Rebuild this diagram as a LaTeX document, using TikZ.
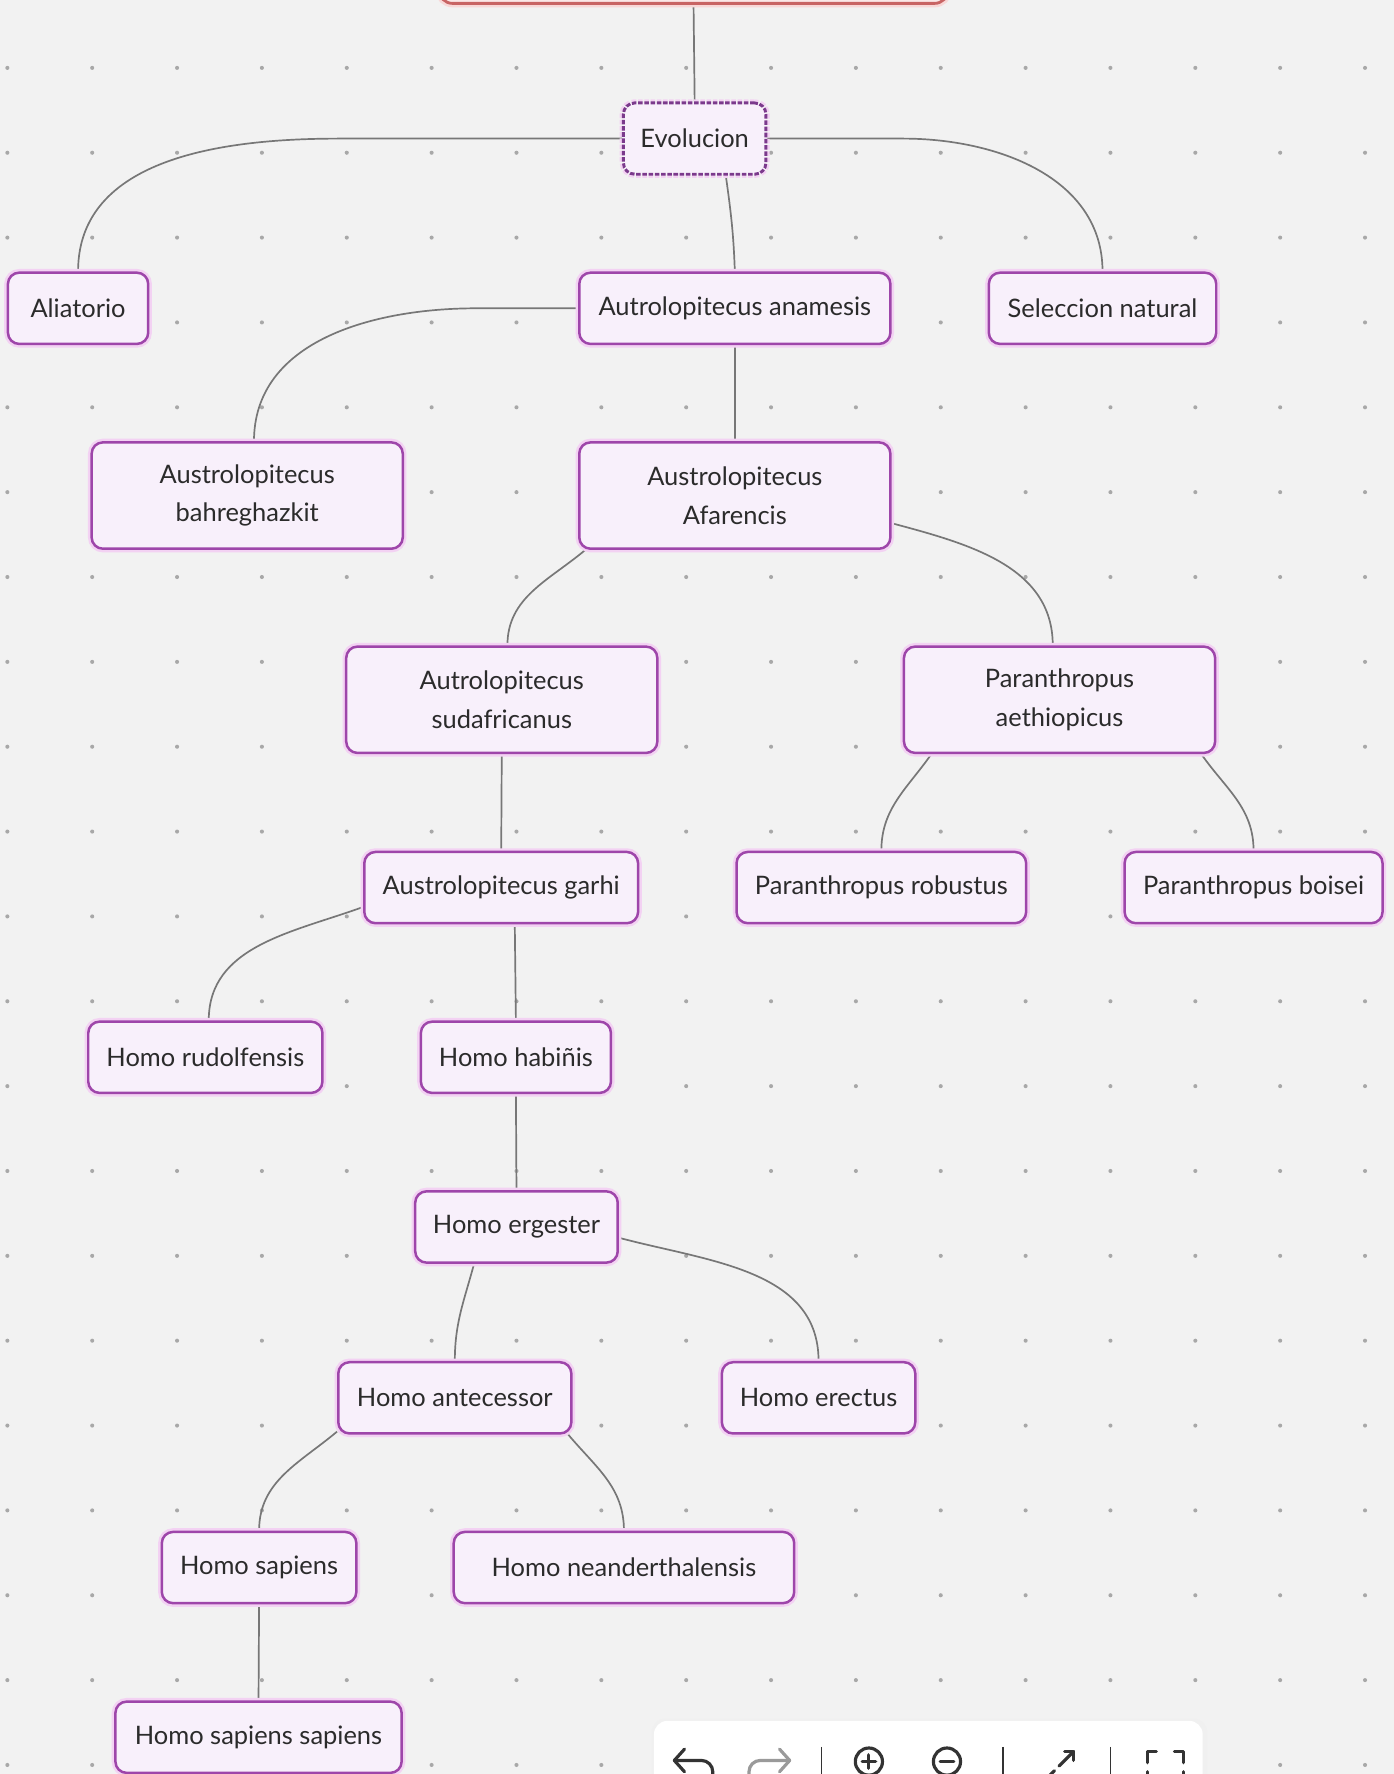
\documentclass[tikz,border=0pt]{standalone}
\usepackage{fontspec}
\setmainfont{Lato}
\usetikzlibrary{calc}
\definecolor{bgc}{HTML}{F2F2F2}
\definecolor{nodefill}{HTML}{F8F0FB}
\definecolor{nodeborder}{HTML}{9E46AA}
\definecolor{glow}{HTML}{F3D2F3}
\definecolor{txt}{HTML}{2B2B2B}
\definecolor{connc}{HTML}{777777}
\definecolor{dotc}{HTML}{A8A8A8}
\definecolor{selborder}{HTML}{7B3A8C}
\definecolor{topborder}{HTML}{C86464}
\definecolor{topfill}{HTML}{FBE8E8}
\definecolor{topglow}{HTML}{F8D8D8}
\definecolor{iconc}{HTML}{333333}
\definecolor{icongray}{HTML}{9A9A9A}
\pgfdeclarelayer{bg}
\pgfsetlayers{bg,main}
\begin{document}
\begin{tikzpicture}[x=1pt,y=1pt,
  concept/.style={draw=nodeborder, line width=2.2pt, fill=nodefill, rounded corners=10pt,
    text=txt, font=\fontsize{22.5}{34}\selectfont, align=center, inner sep=0pt,
    minimum height=63pt, preaction={draw=glow, line width=6.5pt}},
  twoline/.style={minimum height=94pt},
  selected/.style={draw=selborder, dash pattern=on 4pt off 1.5pt, line width=2.6pt},
  topbox/.style={draw=topborder, line width=2.5pt, fill=topfill, rounded corners=12pt,
    minimum width=450pt, minimum height=60pt, preaction={draw=topglow, line width=7pt}},
  conn/.style={draw=connc, line width=1.5pt},
  icon/.style={draw=iconc, line width=2.8pt, line cap=round, line join=round},
  icongr/.style={draw=icongray, line width=2.8pt, line cap=round, line join=round}]
\useasboundingbox (0,0) rectangle (1232,-1568);
\clip (0,0) rectangle (1232,-1568);
\begin{pgfonlayer}{bg}
\fill[bgc] (0,0) rectangle (1232,-1568);
\foreach \i in {0,...,16} {
  \foreach \j in {0,...,20} {
    \fill[dotc] ({6.5+75*\i},{-60-75*\j}) circle (1.8pt);
  }
}
\end{pgfonlayer}

% nodes
\node[topbox] (top) at (613,27) {};
\node[concept, selected, minimum width=126pt] (evo) at (614,-122.5) {Evolucion};
\node[concept, minimum width=124pt] (ali) at (69,-272.5) {Aliatorio};
\node[concept, minimum width=275pt] (anam) at (649.5,-272.5) {Autrolopitecus anamesis};
\node[concept, minimum width=201pt] (sel) at (974.5,-272.5) {Seleccion natural};
\node[concept, twoline, minimum width=275pt] (bah) at (218.5,-438) {Austrolopitecus\\bahreghazkit};
\node[concept, twoline, minimum width=275pt] (afa) at (649.5,-438) {Austrolopitecus\\Afarencis};
\node[concept, twoline, minimum width=275pt] (sud) at (443.5,-618.5) {Autrolopitecus\\sudafricanus};
\node[concept, twoline, minimum width=275pt] (aeth) at (936.5,-618.5) {Paranthropus\\aethiopicus};
\node[concept, minimum width=242pt] (garhi) at (443,-784.5) {Austrolopitecus garhi};
\node[concept, minimum width=256pt] (rob) at (779,-784.5) {Paranthropus robustus};
\node[concept, minimum width=228pt] (boi) at (1108,-784.5) {Paranthropus boisei};
\node[concept, minimum width=207pt] (rud) at (181.5,-934.5) {Homo rudolfensis};
\node[concept, minimum width=168pt] (hab) at (456,-934.5) {Homo habiñis};
\node[concept, minimum width=179pt] (erg) at (456.5,-1084.5) {Homo ergester};
\node[concept, minimum width=206pt] (ant) at (402,-1235.5) {Homo antecessor};
\node[concept, minimum width=171pt] (ere) at (723.5,-1235.5) {Homo erectus};
\node[concept, minimum width=172pt] (sap) at (229,-1385.5) {Homo sapiens};
\node[concept, minimum width=301pt] (nea) at (551.5,-1385.5) {Homo neanderthalensis};
\node[concept, minimum width=253pt] (sss) at (228.5,-1535.5) {Homo sapiens sapiens};

% connectors
\begin{pgfonlayer}{bg}
\draw[conn] (top.south) -- (evo.north);
\draw[conn] (evo.west) -- ++(-250,0) to[out=180,in=90] (ali.north);
\draw[conn] (evo.east) -- ++(120,0) to[out=0,in=90] (sel.north);
\draw[conn] (evo.-50) to[out=-82,in=92] (anam.north);
\draw[conn] (anam.west) -- ++(-90,0) to[out=180,in=90] ($(bah.north)+(6,0)$);
\draw[conn] (anam.south) -- (afa.north);
\draw[conn] (afa.-160) to[out=-140,in=90] ($(sud.north)+(5,0)$);
\draw[conn] (afa.-10) to[out=-15,in=90] ($(aeth.north)+(-6,0)$);
\draw[conn] (sud.south) -- (garhi.north);
\draw[conn] (aeth.-157) to[out=-125,in=90] (rob.north);
\draw[conn] (aeth.-21) to[out=-55,in=90] (boi.north);
\draw[conn] (garhi.-172) to[out=200,in=90] ($(rud.north)+(3,0)$);
\draw[conn] ($(garhi.south)+(12,0)$) -- (hab.north);
\draw[conn] (hab.south) -- (erg.north);
\draw[conn] (erg.-139) to[out=-105,in=90] (ant.north);
\draw[conn] (erg.-6) to[out=-15,in=90] (ere.north);
\draw[conn] (ant.-164) to[out=-140,in=90] (sap.north);
\draw[conn] (ant.-18) to[out=-50,in=90] (nea.north);
\draw[conn] (sap.south) -- (sss.north);
\end{pgfonlayer}

% toolbar
\fill[black!6, rounded corners=12pt] (576,-1519) rectangle (1067,-1610);
\fill[white, rounded corners=12pt] (578,-1521) rectangle (1063,-1610);
% undo
\draw[icon] (605,-1546) -- (596,-1556) -- (605,-1566);
\draw[icon] (596,-1556) -- (620,-1556) arc[start angle=90, end angle=0, radius=10] -- (630,-1575);
% redo
\draw[icongr] (689,-1546) -- (698,-1556) -- (689,-1566);
\draw[icongr] (698,-1556) -- (672,-1556) arc[start angle=90, end angle=180, radius=10] -- (662,-1575);
% separators
\draw[draw=iconc, line width=1.5pt] (726,-1544) -- (726,-1575);
\draw[draw=iconc, line width=1.5pt] (886.5,-1544) -- (886.5,-1575);
\draw[draw=iconc, line width=1.5pt] (981.5,-1544) -- (981.5,-1575);
% zoom in / out
\draw[icon] (768,-1557) circle (12pt);
\draw[icon] (762,-1557) -- (774,-1557) (768,-1551) -- (768,-1563);
\draw[icon] (837,-1557) circle (12pt);
\draw[icon] (831,-1557) -- (843,-1557);
% expand
\draw[icon] (936,-1561) -- (949,-1548);
\draw[icon] (941,-1548) -- (949,-1548) -- (949,-1556);
\draw[icon] (932,-1565) -- (919,-1578);
\draw[icon] (919,-1570) -- (919,-1578) -- (927,-1578);
% fullscreen
\draw[icon] (1014,-1558) -- (1014,-1548) -- (1022,-1548);
\draw[icon] (1038,-1548) -- (1046,-1548) -- (1046,-1558);
\draw[icon] (1014,-1566) -- (1014,-1576);
\draw[icon] (1046,-1566) -- (1046,-1576);
\end{tikzpicture}
\end{document}
